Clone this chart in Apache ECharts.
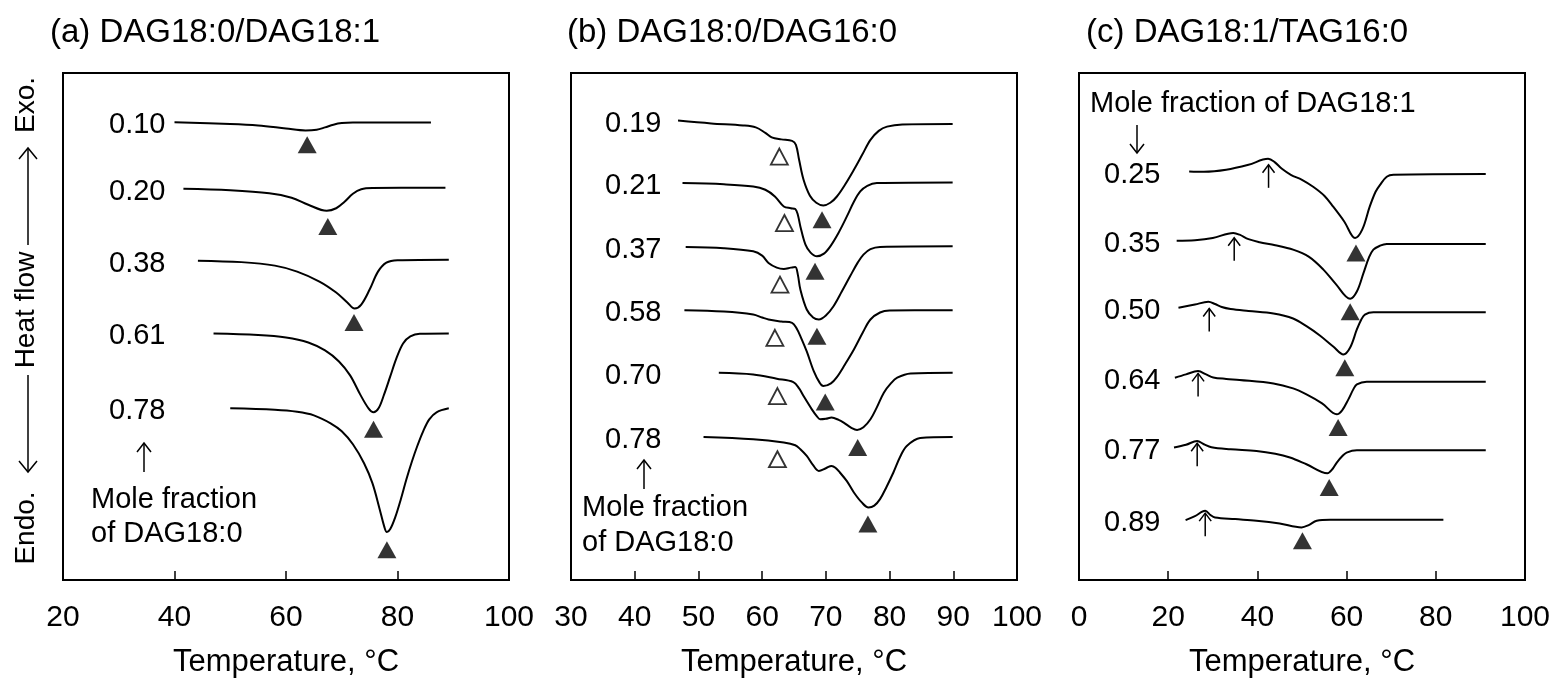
<!DOCTYPE html>
<html>
<head>
<meta charset="utf-8">
<script src="https://cdn.jsdelivr.net/npm/echarts@6/dist/echarts.min.js"></script>
<style>
html,body{margin:0;padding:0;background:#fff}
#main{width:1557px;height:683px}
</style>
</head>
<body>
<div id="main"></div>
<script>
// heat flow is in arbitrary units, offset per sample, endothermic = larger value (axis inverted)

/* (a) DAG18:0/DAG18:1 */
var aFractions = ['0.10', '0.20', '0.38', '0.61', '0.78'];
var aCurves = [
    [[40,122.3],[50,124],[55,125.5],[60,128.5],[63.5,130.5],[65.5,129.8],[67,127.5],[68.5,124.8],[70,123.2],[72,122.7],[86,122.7]],
    [[41.6,189],[50,190.5],[57,193.5],[61,198],[64,205],[67.3,211],[69,208.5],[70.5,202],[72,194],[73.5,189.5],[75.5,188.3],[88.6,188]],
    [[44.2,261],[52,262.5],[58,266],[62,272],[66,282],[69,293],[71,303],[72.3,309],[73.5,305],[75,290],[76.5,272],[78,263],[80,260.5],[89.2,260]],
    [[47,334],[55,335.5],[60,338],[64,343],[67,351],[69.5,362],[71.5,376],[73.3,395],[74.8,409],[75.7,413],[76.6,409],[77.6,395],[78.7,377],[79.8,359],[81,344],[82.3,337],[84,334.3],[89.2,334]],
    [[50,409],[58,410.5],[62,412.5],[65,416],[68,424],[70,432],[72,445],[74,464],[75.5,484],[76.8,510],[77.6,527],[78.1,533],[78.7,530],[79.6,518],[80.6,500],[81.6,480],[82.6,462],[83.6,446],[84.6,432],[85.7,420],[87,413],[89.2,409]]
];
var aPeaks = [[63.8,145],[67.5,226.7],[72.2,323],[75.7,430],[78.1,550.7]];

/* (b) DAG18:0/DAG16:0 */
var bFractions = ['0.19', '0.21', '0.37', '0.58', '0.70', '0.78'];
var bCurves = [
    [[46.8,120.7],[52,123.5],[57,125.5],[59,127.5],[60.5,133],[61.5,137.5],[63,139.5],[64.7,141],[65.3,145],[65.8,160],[66.5,180],[67.5,196],[68.5,203],[69.6,205.7],[70.7,203],[71.7,197],[73,185],[74.4,170],[75.7,155],[77,140],[78.3,131],[79.6,126.7],[82,124.5],[89.9,124]],
    [[47.5,183.3],[54,184.5],[58.6,186.7],[60.5,190],[62,196.7],[63.4,206.7],[64.5,208.5],[65.2,209.3],[65.6,215],[66,226.7],[66.8,245],[67.6,253],[68.6,256.7],[69.7,254],[70.7,246.7],[72,233],[73.3,216.7],[74.4,202],[75.4,191.7],[76.5,186],[78,183.3],[89.9,182.7]],
    [[48,247.3],[54,248.5],[58.6,251.7],[60,256],[61,263.3],[62.3,268],[63.4,269.3],[64.5,268],[65.2,267.3],[65.6,275],[66,290],[67,310],[68,318],[68.9,320],[70,316],[71.2,306.7],[72.5,292],[73.8,276.7],[75,263],[75.9,255],[77,249.5],[78.5,247.3],[89.9,246.7]],
    [[47.8,310.7],[54,312],[58.6,315],[60,318],[61,320],[63,322],[64.7,323.3],[65.5,330],[66,336.7],[67,352],[68.1,371.7],[69,383],[69.6,386.7],[70.8,384],[71.7,378],[73,365],[74.4,350],[75.8,333],[77,320],[78.5,313],[80,311],[89.9,310.7]],
    [[53.2,373.3],[58.6,375],[62.3,379.3],[64.9,382.7],[65.8,389],[66.5,396.7],[67.8,410],[68.6,417],[69.1,420],[70,419.5],[70.9,418.3],[72,420.5],[72.8,423.3],[74,428.5],[74.9,430.7],[75.9,428],[77,420],[78,408],[79.1,393.3],[80.2,384],[81.2,378.3],[83.3,374],[89.9,373.3]],
    [[50.8,437.7],[58.6,440],[63.4,443.3],[65.2,446],[66,450],[67,456.7],[68,466],[68.9,471.7],[70,469],[70.9,466.7],[71.5,468.5],[72.2,473.3],[73.3,482],[74.4,493.3],[75.6,503],[76.7,508.3],[77.6,506.5],[78.5,500],[79.5,488],[80.6,473.3],[81.7,457],[82.7,446.7],[84.8,438.7],[89.9,437.7]]
];
var bPeaks = [[69.4,220],[68.3,271.7],[68.6,336.7],[69.9,402.7],[75,448.3],[76.6,525]];
var bShoulders = [[62.7,156.7],[63.5,223.3],[62.8,285],[62,338.3],[62.4,396.7],[62.4,460]];

/* (c) DAG18:1/TAG16:0 */
var cFractions = ['0.25', '0.35', '0.50', '0.64', '0.77', '0.89'];
var cCurves = [
    [[24.7,171.7],[28,172],[33,170],[38,165],[42.4,159],[43.8,162],[45.5,169],[47.5,175],[50,180],[52.5,187],[55,196],[57,207],[59.5,222],[61.9,238.3],[63.5,230],[65.2,206.7],[66.5,192],[67.5,185],[69,177],[70.5,175],[91.2,174.3]],
    [[21.9,241],[26,240.5],[30,238.3],[34.6,233.3],[36,235],[38,239.5],[40.5,242.5],[44,245.5],[48,250],[51.5,257],[54.8,270],[57.5,284],[60.8,299.3],[62.3,292],[63.8,273.3],[65,258],[66,250],[67.5,246],[69,244.3],[91.2,244.3]],
    [[22.3,308.3],[26,305],[29,302.3],[30.5,304.5],[32,307.5],[34,309.5],[38,311.5],[43.6,314],[48,319],[51,326.7],[54,336],[57,347],[59.3,355],[60.8,348],[62.3,330],[63.3,320],[64.1,315],[66,312.7],[91.2,312.7]],
    [[21.5,378.3],[24,375],[26.7,371.7],[28.5,375],[30.1,378],[33,379.5],[36,380.5],[43.6,384],[48,389],[51,395],[54.5,404],[57.8,415],[59,411],[60.4,400],[61.5,390],[62.3,385],[64.5,382.3],[91.2,382.3]],
    [[21.3,448.3],[24,445.5],[26.5,441.7],[28,445],[29.7,448],[34,450],[39.8,451.7],[44,454.5],[47.3,458.3],[51,465],[55.7,474],[56.8,470],[57.8,463.3],[59,457],[60,453.3],[62.3,451],[91.2,451]],
    [[23.9,521],[26,517],[28.3,511.7],[29.5,516],[30.5,518.3],[35,520],[39.8,521.7],[45,524.5],[49.9,528.3],[51.5,526],[53.3,521.7],[56.3,520.7],[81.7,520.7]]
];
var cPeaks = [[62.1,253.3],[60.8,312.3],[59.6,368.3],[58.1,428.3],[56.1,488.3],[50.1,541.7]];
// exothermic events (arrow tips)
var cExo = [[42.5,165],[34.8,238],[29.2,309],[26.7,374],[26.5,444],[28.3,514]];

var xRanges = [[20, 100, 20], [30, 100, 10], [0, 100, 20]];
var titles = ['(a) DAG18:0/DAG18:1', '(b) DAG18:0/DAG16:0', '(c) DAG18:1/TAG16:0'];

var FONT = '"Liberation Sans", Arial, Helvetica, sans-serif';
var gridLefts = [63, 571, 1079];

var myChart = echarts.init(document.getElementById('main'));

function lineSeries(g, curves) {
    return curves.map(function (c) {
        return {
            type: 'line', xAxisIndex: g, yAxisIndex: g, data: c,
            showSymbol: false, smooth: 0.35, silent: true, animation: false,
            lineStyle: {color: '#000', width: 2}
        };
    });
}

function triSeries(g, pts, open) {
    return {
        type: 'scatter', xAxisIndex: g, yAxisIndex: g, data: pts,
        symbol: 'triangle', symbolSize: open ? [17, 16] : [19, 17],
        silent: true, animation: false,
        itemStyle: open ? {color: '#fff', borderColor: '#000', borderWidth: 1.8} : {color: '#000'}
    };
}

var grids = [], xAxes = [], yAxes = [];
for (var i = 0; i < 3; i++) {
    grids.push({left: gridLefts[i], top: 73, width: 446, height: 508, show: true, borderColor: '#000', borderWidth: 2});
    xAxes.push({
        type: 'value', gridIndex: i, min: xRanges[i][0], max: xRanges[i][1], interval: xRanges[i][2],
        name: 'Temperature, °C', nameLocation: 'middle', nameGap: 67,
        nameTextStyle: {fontSize: 31, fontFamily: FONT, color: '#000'},
        axisLine: {lineStyle: {color: '#000', width: 2}},
        axisTick: {inside: true, length: 9, lineStyle: {color: '#000', width: 1.5}},
        axisLabel: {fontSize: 30, fontFamily: FONT, color: '#000', margin: 23},
        splitLine: {show: false}
    });
    yAxes.push({type: 'value', gridIndex: i, min: 73, max: 581, inverse: true, show: false});
}

var series = []
    .concat(lineSeries(0, aCurves))
    .concat(lineSeries(1, bCurves))
    .concat(lineSeries(2, cCurves));
series.push(triSeries(0, aPeaks, false));
series.push(triSeries(1, bPeaks, false));
series.push(triSeries(1, bShoulders, true));
series.push(triSeries(2, cPeaks, false));

myChart.setOption({
    backgroundColor: '#fff',
    animation: false,
    grid: grids,
    xAxis: xAxes,
    yAxis: yAxes,
    series: series
});

/* 文字和箭头 */
function textEl(x, y, str, size, extra) {
    var el = {
        type: 'text', x: x, y: y, silent: true,
        style: {text: str, fontSize: size, fontFamily: FONT, fill: '#000', align: 'left', verticalAlign: 'middle'}
    };
    for (var k in extra) el[k] = extra[k];
    return el;
}

function arrowEl(x, yTail, yHead, hw, hh) {
    var d = yHead < yTail ? 1 : -1;
    return {
        type: 'group', silent: true,
        children: [
            {type: 'line', shape: {x1: x, y1: yTail, x2: x, y2: yHead}, style: {stroke: '#000', lineWidth: 1.5}},
            {type: 'polyline', shape: {points: [[x - hw, yHead + d * hh], [x, yHead], [x + hw, yHead + d * hh]]},
                style: {stroke: '#000', fill: null, lineWidth: 1.5}}
        ]
    };
}

function fractionLabels(g, curves, names, left) {
    return curves.map(function (c, k) {
        var p = myChart.convertToPixel({gridIndex: g}, c[0]);
        return textEl(left, p[1] + 3, names[k], 29);
    });
}

var graphic = [];
for (var t = 0; t < 3; t++) {
    graphic.push(textEl([50, 567, 1086][t], 33, titles[t], 33));
}
graphic = graphic
    .concat(fractionLabels(0, aCurves, aFractions, 109))
    .concat(fractionLabels(1, bCurves, bFractions, 605))
    .concat(fractionLabels(2, cCurves, cFractions, 1104));

// (c) 放热峰箭头
cExo.forEach(function (d) {
    var p = myChart.convertToPixel({gridIndex: 2}, d);
    graphic.push(arrowEl(p[0], p[1] + 23, p[1], 6, 8));
});

// (a)
graphic.push(arrowEl(144, 472, 443, 7, 9));
graphic.push(textEl(91, 500, 'Mole fraction', 29));
graphic.push(textEl(91, 534, 'of DAG18:0', 29));
// (b)
graphic.push(arrowEl(644, 489, 460, 7, 9));
graphic.push(textEl(582, 508, 'Mole fraction', 29));
graphic.push(textEl(582, 543, 'of DAG18:0', 29));
// (c)
graphic.push(textEl(1090, 104, 'Mole fraction of DAG18:1', 29));
graphic.push(arrowEl(1137, 125, 153, 7, 9));

// y label: Endo. <- Heat flow -> Exo.
var rot = {rotation: Math.PI / 2};
function vText(y, str) {
    var el = textEl(26, y, str, 28, rot);
    el.style.align = 'center';
    return el;
}
graphic.push(vText(105, 'Exo.'));
graphic.push(arrowEl(28, 245, 148, 9, 11));
graphic.push(vText(310, 'Heat flow'));
graphic.push(arrowEl(28, 375, 472, 9, 11));
graphic.push(vText(528, 'Endo.'));

myChart.setOption({graphic: graphic});
</script>
</body>
</html>
